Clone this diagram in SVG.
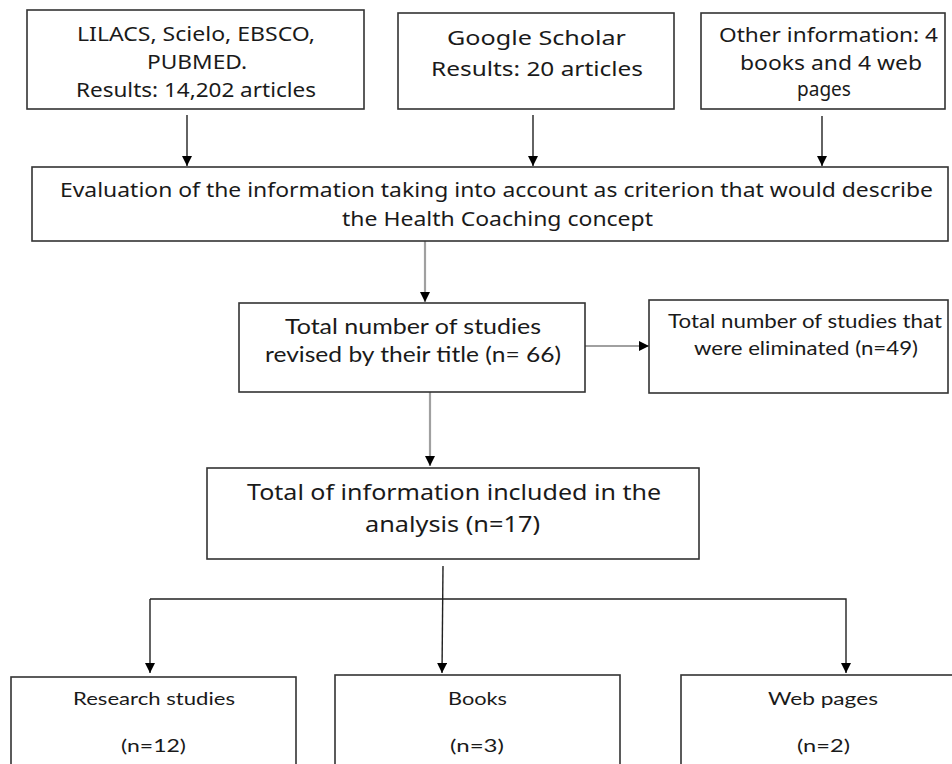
<svg xmlns="http://www.w3.org/2000/svg" width="952" height="764" viewBox="0 0 952 764">
<style>
.box{fill:#fff;stroke:#333;stroke-width:1.6}
.t{font-family:"Noto Sans","Open Sans",sans-serif;fill:#1a1a1a;text-anchor:start}
.c{font-family:Lato,"Liberation Sans",sans-serif;fill:#1a1a1a;text-anchor:start}
.dk{stroke:#222;stroke-width:1.4;fill:none}
.gr{stroke:#a0a0a0;stroke-width:2.2;fill:none}
</style>
<defs>
<marker id="ah" markerWidth="10" markerHeight="10" refX="10" refY="5" orient="auto" markerUnits="userSpaceOnUse">
<path d="M0,0 L10,5 L0,10 Z" fill="#000"/>
</marker>
</defs>
<rect width="952" height="764" fill="#fff"/>
<g id="connectors">
<line class="dk" x1="187" y1="115" x2="187" y2="166" marker-end="url(#ah)"/>
<line class="dk" x1="533" y1="115" x2="533" y2="166" marker-end="url(#ah)"/>
<line class="dk" x1="822" y1="116" x2="822" y2="166" stroke="#555" stroke-width="1.1" marker-end="url(#ah)"/>
<line class="gr" x1="425" y1="241" x2="425" y2="302" marker-end="url(#ah)"/>
<line class="gr" x1="585" y1="346" x2="649" y2="346" marker-end="url(#ah)"/>
<line class="gr" x1="430" y1="392" x2="430" y2="466" marker-end="url(#ah)"/>
<line class="dk" x1="443" y1="566" x2="442" y2="673" marker-end="url(#ah)"/>
<line class="dk" x1="150" y1="599" x2="150" y2="673" marker-end="url(#ah)"/>
<polyline class="dk" points="150,599 846,599 846,673" marker-end="url(#ah)"/>
</g>
<g id="box1">
<rect class="box" x="27" y="10" width="337" height="99"/>
<text class="t" font-size="20" x="77" y="41" textLength="238" lengthAdjust="spacingAndGlyphs">LILACS, Scielo, EBSCO,</text>
<text class="t" font-size="20" x="147" y="69" textLength="100" lengthAdjust="spacingAndGlyphs">PUBMED.</text>
<text class="t" font-size="20" x="76" y="97" textLength="240" lengthAdjust="spacingAndGlyphs">Results: 14,202 articles</text>
</g>
<g id="box2">
<rect class="box" x="398" y="13" width="276" height="96"/>
<text class="t" font-size="20" x="447" y="45" textLength="179" lengthAdjust="spacingAndGlyphs">Google Scholar</text>
<text class="t" font-size="20" x="431" y="76" textLength="212" lengthAdjust="spacingAndGlyphs">Results: 20 articles</text>
</g>
<g id="box3">
<rect class="box" x="701" y="13" width="244" height="96"/>
<text class="t" font-size="20" x="719" y="42" textLength="219" lengthAdjust="spacingAndGlyphs">Other information: 4</text>
<text class="t" font-size="20" x="740" y="70" textLength="182" lengthAdjust="spacingAndGlyphs">books and 4 web</text>
<text class="t" font-size="20" x="797" y="96" textLength="54" lengthAdjust="spacingAndGlyphs">pages</text>
</g>
<g id="eval">
<rect class="box" x="32" y="167" width="916" height="74"/>
<text class="t" font-size="20" x="60" y="197" textLength="873" lengthAdjust="spacingAndGlyphs">Evaluation of the information taking into account as criterion that would describe</text>
<text class="t" font-size="20" x="342" y="226" textLength="311" lengthAdjust="spacingAndGlyphs">the Health Coaching concept</text>
</g>
<g id="revised">
<rect class="box" x="239" y="303" width="346" height="89"/>
<text class="c" font-size="21" x="285" y="334" textLength="256" lengthAdjust="spacingAndGlyphs">Total number of studies</text>
<text class="c" font-size="21" x="265" y="362" textLength="296" lengthAdjust="spacingAndGlyphs">revised by their title (n= 66)</text>
</g>
<g id="eliminated">
<rect class="box" x="649" y="300" width="299" height="93"/>
<text class="c" font-size="19" x="668" y="328" textLength="274" lengthAdjust="spacingAndGlyphs">Total number of studies that</text>
<text class="c" font-size="19" x="694" y="355" textLength="224" lengthAdjust="spacingAndGlyphs">were eliminated (n=49)</text>
</g>
<g id="included">
<rect class="box" x="207" y="468" width="492" height="91"/>
<text class="t" font-size="22" x="247" y="500" textLength="414" lengthAdjust="spacingAndGlyphs">Total of information included in the</text>
<text class="t" font-size="22" x="365" y="532" textLength="175" lengthAdjust="spacingAndGlyphs">analysis (n=17)</text>
</g>
<g id="research">
<rect class="box" x="11" y="677" width="285" height="100"/>
<text class="c" font-size="18" x="73" y="705" textLength="162" lengthAdjust="spacingAndGlyphs">Research studies</text>
<text class="c" font-size="18" x="121" y="752" textLength="65" lengthAdjust="spacingAndGlyphs">(n=12)</text>
</g>
<g id="books">
<rect class="box" x="335" y="675" width="285" height="100"/>
<text class="c" font-size="18" x="448" y="705" textLength="59" lengthAdjust="spacingAndGlyphs">Books</text>
<text class="c" font-size="18" x="450" y="752" textLength="54" lengthAdjust="spacingAndGlyphs">(n=3)</text>
</g>
<g id="webpages">
<rect class="box" x="681" y="675" width="285" height="100"/>
<text class="c" font-size="18" x="768" y="705" textLength="110" lengthAdjust="spacingAndGlyphs">Web pages</text>
<text class="c" font-size="18" x="797" y="752" textLength="53" lengthAdjust="spacingAndGlyphs">(n=2)</text>
</g>
</svg>
